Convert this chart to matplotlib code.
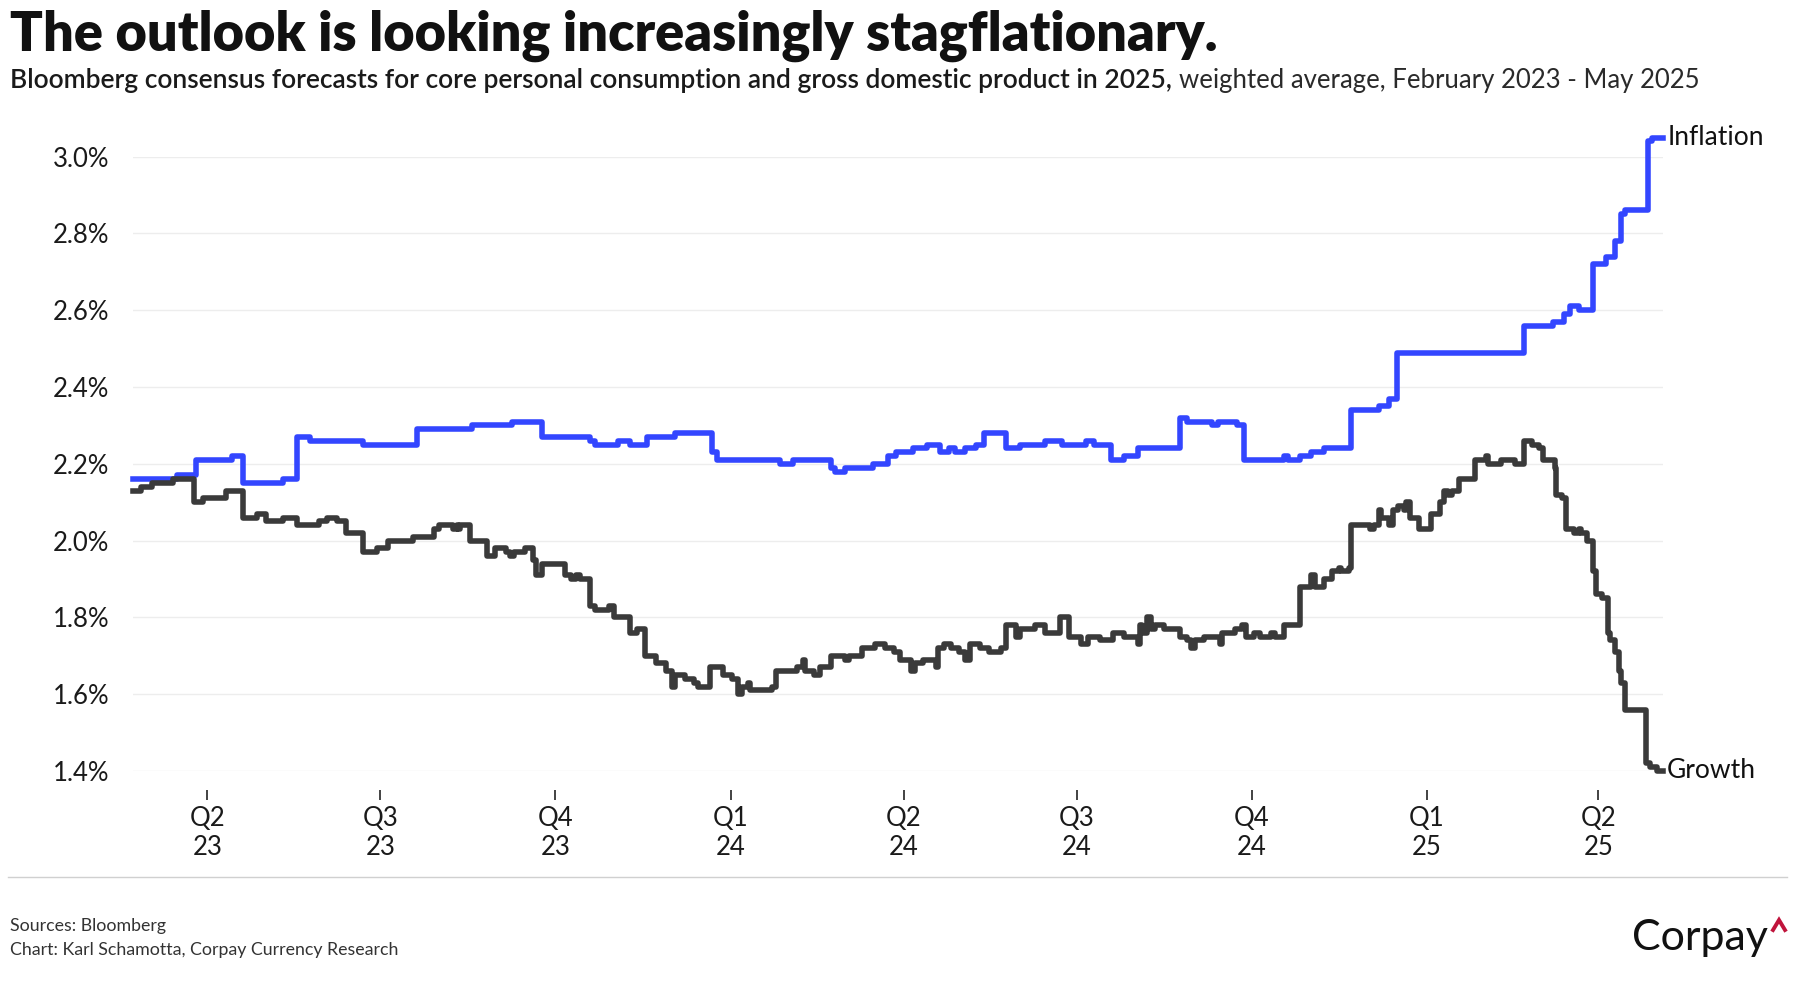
import matplotlib
matplotlib.use("Agg")
import matplotlib.pyplot as plt
from matplotlib.lines import Line2D
import pandas as pd

plt.rcParams['font.family'] = ['Lato', 'DejaVu Sans']

OUT_FILE = 'out.png'

# Bloomberg consensus for 2025, weighted average (step changes)
growth_dates = [
    '2023-02-21', '2023-02-25', '2023-03-03', '2023-03-14', '2023-03-25', '2023-03-30',
    '2023-04-11', '2023-04-20', '2023-04-27', '2023-05-02', '2023-05-11', '2023-05-18',
    '2023-05-30', '2023-06-03', '2023-06-08', '2023-06-13', '2023-06-22', '2023-06-29',
    '2023-07-05', '2023-07-18', '2023-07-29', '2023-08-01', '2023-08-08', '2023-08-10',
    '2023-08-11', '2023-08-12', '2023-08-17', '2023-08-26', '2023-08-30', '2023-09-05',
    '2023-09-07', '2023-09-09', '2023-09-15', '2023-09-19', '2023-09-21', '2023-09-24',
    '2023-10-06', '2023-10-09', '2023-10-12', '2023-10-14', '2023-10-19', '2023-10-22',
    '2023-10-29', '2023-11-01', '2023-11-09', '2023-11-13', '2023-11-17', '2023-11-23',
    '2023-11-28', '2023-12-01', '2023-12-03', '2023-12-08', '2023-12-13', '2023-12-15',
    '2023-12-21', '2023-12-28', '2024-01-02', '2024-01-05', '2024-01-07', '2024-01-10',
    '2024-01-11', '2024-01-23', '2024-01-25', '2024-02-05', '2024-02-08', '2024-02-09',
    '2024-02-14', '2024-02-17', '2024-02-23', '2024-03-01', '2024-03-03', '2024-03-10',
    '2024-03-17', '2024-03-22', '2024-03-27', '2024-03-30', '2024-04-05', '2024-04-07',
    '2024-04-11', '2024-04-18', '2024-04-19', '2024-04-22', '2024-04-26', '2024-04-30',
    '2024-05-03', '2024-05-06', '2024-05-11', '2024-05-16', '2024-05-22', '2024-05-25',
    '2024-05-30', '2024-06-01', '2024-06-09', '2024-06-14', '2024-06-22', '2024-06-27',
    '2024-07-03', '2024-07-07', '2024-07-13', '2024-07-20', '2024-07-26', '2024-08-02',
    '2024-08-03', '2024-08-04', '2024-08-07', '2024-08-09', '2024-08-11', '2024-08-16',
    '2024-08-24', '2024-08-28', '2024-08-30', '2024-09-01', '2024-09-06', '2024-09-14',
    '2024-09-15', '2024-09-22', '2024-09-26', '2024-09-28', '2024-10-02', '2024-10-05',
    '2024-10-11', '2024-10-13', '2024-10-18', '2024-10-26', '2024-11-01', '2024-11-03',
    '2024-11-08', '2024-11-12', '2024-11-16', '2024-11-17', '2024-11-21', '2024-11-22',
    '2024-12-02', '2024-12-04', '2024-12-07', '2024-12-08', '2024-12-12', '2024-12-14',
    '2024-12-17', '2024-12-20', '2024-12-21', '2024-12-23', '2024-12-28', '2025-01-03',
    '2025-01-08', '2025-01-10', '2025-01-12', '2025-01-14', '2025-01-18', '2025-01-26',
    '2025-02-01', '2025-02-02', '2025-02-09', '2025-02-16', '2025-02-21', '2025-02-25',
    '2025-03-01', '2025-03-03', '2025-03-09', '2025-03-10', '2025-03-13', '2025-03-15',
    '2025-03-19', '2025-03-22', '2025-03-23', '2025-03-26', '2025-03-29', '2025-03-31',
    '2025-04-03', '2025-04-06', '2025-04-07', '2025-04-10', '2025-04-12', '2025-04-13',
    '2025-04-15', '2025-04-26', '2025-04-28', '2025-05-02', '2025-05-05',
]
growth_values = [
    2.13, 2.14, 2.15, 2.16, 2.10, 2.11,
    2.13, 2.06, 2.07, 2.05, 2.06, 2.04,
    2.05, 2.06, 2.05, 2.02, 1.97, 1.98,
    2.00, 2.01, 2.03, 2.04, 2.03, 2.04,
    2.03, 2.04, 2.00, 1.96, 1.98, 1.97,
    1.96, 1.97, 1.98, 1.95, 1.91, 1.94,
    1.91, 1.90, 1.91, 1.90, 1.83, 1.82,
    1.83, 1.80, 1.76, 1.77, 1.70, 1.68,
    1.66, 1.62, 1.65, 1.64, 1.63, 1.62,
    1.67, 1.65, 1.64, 1.60, 1.62, 1.63,
    1.61, 1.62, 1.66, 1.67, 1.69, 1.66,
    1.65, 1.67, 1.70, 1.69, 1.70, 1.72,
    1.73, 1.72, 1.71, 1.69, 1.66, 1.68,
    1.69, 1.67, 1.72, 1.73, 1.72, 1.71,
    1.69, 1.73, 1.72, 1.71, 1.72, 1.78,
    1.75, 1.77, 1.78, 1.76, 1.80, 1.75,
    1.73, 1.75, 1.74, 1.76, 1.75, 1.73,
    1.78, 1.76, 1.80, 1.77, 1.78, 1.77,
    1.75, 1.74, 1.72, 1.74, 1.75, 1.73,
    1.76, 1.77, 1.78, 1.75, 1.76, 1.75,
    1.76, 1.75, 1.78, 1.88, 1.91, 1.88,
    1.90, 1.92, 1.93, 1.92, 1.93, 2.04,
    2.03, 2.04, 2.08, 2.06, 2.04, 2.08,
    2.09, 2.08, 2.10, 2.06, 2.03, 2.07,
    2.10, 2.13, 2.12, 2.13, 2.16, 2.21,
    2.22, 2.20, 2.21, 2.20, 2.26, 2.25,
    2.24, 2.21, 2.19, 2.12, 2.11, 2.03,
    2.02, 2.03, 2.02, 2.00, 1.92, 1.86,
    1.85, 1.76, 1.74, 1.71, 1.66, 1.63,
    1.56, 1.42, 1.41, 1.40, 1.40,
]

inflation_dates = [
    '2023-02-21', '2023-03-16', '2023-03-26', '2023-04-14', '2023-04-20', '2023-05-11',
    '2023-05-18', '2023-05-25', '2023-06-22', '2023-07-20', '2023-08-18', '2023-09-08',
    '2023-09-24', '2023-10-19', '2023-10-22', '2023-11-03', '2023-11-09', '2023-11-18',
    '2023-12-03', '2023-12-22', '2023-12-25', '2024-01-27', '2024-02-03', '2024-02-23',
    '2024-02-25', '2024-03-01', '2024-03-16', '2024-03-24', '2024-03-28', '2024-04-06',
    '2024-04-13', '2024-04-20', '2024-04-25', '2024-04-28', '2024-05-03', '2024-05-09',
    '2024-05-13', '2024-05-25', '2024-06-01', '2024-06-14', '2024-06-23', '2024-07-06',
    '2024-07-10', '2024-07-19', '2024-07-26', '2024-08-02', '2024-08-24', '2024-08-28',
    '2024-09-10', '2024-09-13', '2024-09-23', '2024-09-27', '2024-10-18', '2024-10-20',
    '2024-10-26', '2024-11-01', '2024-11-08', '2024-11-22', '2024-12-07', '2024-12-12',
    '2024-12-16', '2025-02-21', '2025-03-08', '2025-03-14', '2025-03-17', '2025-03-22',
    '2025-03-29', '2025-04-05', '2025-04-10', '2025-04-13', '2025-04-15', '2025-04-27',
    '2025-04-29', '2025-05-05',
]
inflation_values = [
    2.16, 2.17, 2.21, 2.22, 2.15, 2.16,
    2.27, 2.26, 2.25, 2.29, 2.30, 2.31,
    2.27, 2.26, 2.25, 2.26, 2.25, 2.27,
    2.28, 2.23, 2.21, 2.20, 2.21, 2.19,
    2.18, 2.19, 2.20, 2.22, 2.23, 2.24,
    2.25, 2.23, 2.24, 2.23, 2.24, 2.25,
    2.28, 2.24, 2.25, 2.26, 2.25, 2.26,
    2.25, 2.21, 2.22, 2.24, 2.32, 2.31,
    2.30, 2.31, 2.30, 2.21, 2.22, 2.21,
    2.22, 2.23, 2.24, 2.34, 2.35, 2.37,
    2.49, 2.56, 2.57, 2.59, 2.61, 2.60,
    2.72, 2.74, 2.78, 2.85, 2.86, 3.04,
    3.05, 3.05,
]

quarter_dates = ['2023-04-01', '2023-07-01', '2023-10-01', '2024-01-01', '2024-04-01',
                 '2024-07-01', '2024-10-01', '2025-01-01', '2025-04-01']
quarter_labels = ['Q2\n23', 'Q3\n23', 'Q4\n23', 'Q1\n24', 'Q2\n24',
                  'Q3\n24', 'Q4\n24', 'Q1\n25', 'Q2\n25']
y_ticks = [1.4, 1.6, 1.8, 2.0, 2.2, 2.4, 2.6, 2.8, 3.0]

BLUE = '#3346ff'
DARK = '#3a3a3a'
W, H = 1795, 1000


def px(x, y):
    # pixel position (from top-left) to figure fraction
    return x / W, 1 - y / H


def fit_width(txt, target_px, renderer):
    # scale the font so the text spans the wanted width
    w = txt.get_window_extent(renderer).width
    txt.set_fontsize(txt.get_fontsize() * target_px / w)


def main():
    fig = plt.figure(figsize=(W / 100, H / 100), dpi=100)
    fig.patch.set_facecolor('white')

    left, right, top, bottom = 133, 1663, 156.7, 771
    ax = fig.add_axes([left / W, 1 - bottom / H, (right - left) / W, (bottom - top) / H])

    g_dates = pd.to_datetime(growth_dates)
    i_dates = pd.to_datetime(inflation_dates)

    ax.plot(i_dates, inflation_values, drawstyle='steps-post', color=BLUE, lw=4.0,
            solid_joinstyle='round', clip_on=False, zorder=3)
    ax.plot(g_dates, growth_values, drawstyle='steps-post', color=DARK, lw=4.0,
            solid_joinstyle='round', clip_on=False, zorder=3)

    ax.set_xlim(g_dates[0], g_dates[-1])
    ax.set_ylim(1.4, 3.0)

    ax.set_yticks(y_ticks)
    ax.set_yticklabels([f'{v:.1f}%' for v in y_ticks])
    ax.set_xticks(pd.to_datetime(quarter_dates))
    ax.set_xticklabels(quarter_labels, linespacing=1.3)

    ax.grid(axis='y', color='#ededed', lw=1)
    ax.grid(axis='x', visible=False)
    for s in ax.spines.values():
        s.set_visible(False)
    ax.spines['bottom'].set_position(('outward', 13.7))

    ax.tick_params(axis='y', length=0, pad=17, labelsize=18.5, labelcolor='#1a1a1a')
    ax.tick_params(axis='x', length=7.2, width=1.2, color='#222222', pad=4,
                   labelsize=18.5, labelcolor='#1a1a1a')

    ax.annotate('Inflation', xy=(i_dates[-1], inflation_values[-1]), xytext=(3, 0),
                textcoords='offset points', va='center', ha='left', fontsize=19,
                color='#111111', annotation_clip=False)
    ax.annotate('Growth', xy=(g_dates[-1], growth_values[-1]), xytext=(3, 0),
                textcoords='offset points', va='center', ha='left', fontsize=19,
                color='#111111', annotation_clip=False)

    renderer = fig.canvas.get_renderer()

    title = fig.text(*px(10, 51), 'The outlook is looking increasingly stagflationary.',
                     fontsize=30, fontweight='heavy', color='#111111', va='baseline')
    fit_width(title, 1207, renderer)

    sub_a = fig.text(*px(10, 88),
                     'Bloomberg consensus forecasts for core personal consumption and gross '
                     'domestic product in 2025,', fontsize=17, fontweight='semibold',
                     color='#1a1a1a', va='baseline')
    fit_width(sub_a, 1164, renderer)
    a_end = sub_a.get_window_extent(renderer).x1
    sub_b = fig.text((a_end + 7) / W, 1 - 88 / H,
                     'weighted average, February 2023 - May 2025',
                     fontsize=sub_a.get_fontsize(), color='#2a2a2a', va='baseline')
    fit_width(sub_b, 1700 - a_end - 7, renderer)

    fig.add_artist(Line2D([8 / W, 1787 / W], [1 - 877 / H] * 2, color='#d0d0d0', lw=1))

    fig.text(*px(10, 931), 'Sources: Bloomberg', fontsize=12.8, color='#333333',
             va='baseline')
    fig.text(*px(10, 955), 'Chart: Karl Schamotta, Corpay Currency Research', fontsize=12.8,
             color='#333333', va='baseline')

    fig.text(*px(1768, 950), 'Corpay', fontsize=31, color='#111111', ha='right',
             va='baseline')
    fig.add_artist(Line2D([1773 / W, 1779 / W, 1785 / W],
                          [1 - 930 / H, 1 - 920 / H, 1 - 930 / H],
                          color='#c0143c', lw=2.8, solid_joinstyle='miter'))

    fig.savefig(OUT_FILE, dpi=100, facecolor='white')
    plt.close(fig)


if __name__ == '__main__':
    main()
